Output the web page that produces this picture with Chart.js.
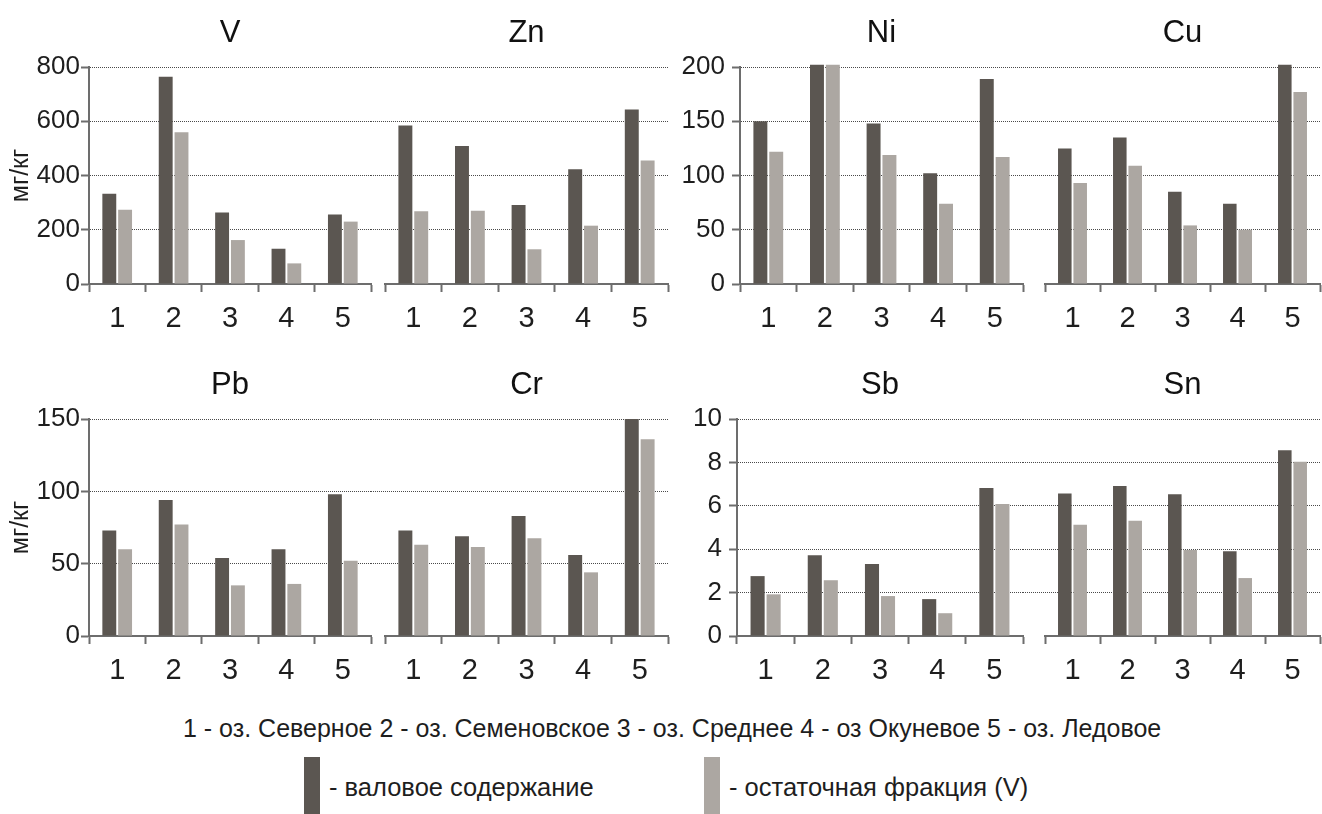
<!DOCTYPE html>
<html>
<head>
<meta charset="utf-8">
<script src="https://cdn.jsdelivr.net/npm/chart.js@4.4.1/dist/chart.umd.min.js"></script>
<style>
  body { margin: 0; background: #fff; }
  #page { position: relative; width: 1322px; height: 814px; overflow: hidden;
          font-family: 'Liberation Sans', Arial, sans-serif; color: #1e1e1e; }
  #page canvas { position: absolute; }
  .note { position: absolute; left: 183px; top: 712px; font-size: 25px; line-height: 32px; white-space: nowrap; }
  .swatch { position: absolute; top: 757px; width: 16px; height: 57px; }
  .lbl { position: absolute; top: 770px; font-size: 25.5px; line-height: 34px; white-space: nowrap; }
</style>
</head>
<body>
<div id="page">
  <canvas id="cV"></canvas>
  <canvas id="cZn"></canvas>
  <canvas id="cNi"></canvas>
  <canvas id="cCu"></canvas>
  <canvas id="cPb"></canvas>
  <canvas id="cCr"></canvas>
  <canvas id="cSb"></canvas>
  <canvas id="cSn"></canvas>
  <div class="note" id="note"></div>
  <div class="swatch" style="left:304px; background:#5b5651"></div>
  <div class="lbl" id="lbl0" style="left:329px"></div>
  <div class="swatch" style="left:704px; background:#aca7a2"></div>
  <div class="lbl" id="lbl1" style="left:729px"></div>
</div>
<script>
// озёра (категории) и подписи
const lakes = ['1', '2', '3', '4', '5'];
const seriesNames = ['- валовое содержание', '- остаточная фракция (V)'];
const lakeNote = '1 - оз. Северное 2 - оз. Семеновское 3 - оз. Среднее 4 - оз Окуневое 5 - оз. Ледовое';
const unitLabel = 'мг/кг';

// значения, мг/кг (валовое / остаточная фракция)
const vTotal = [333, 764, 264, 130, 256];
const vResid = [274, 559, 162, 76, 230];
const znTotal = [584, 509, 291, 423, 643];
const znResid = [268, 270, 128, 215, 455];
const niTotal = [150, 202, 148, 102, 189];
const niResid = [122, 202, 119, 74, 117];
const cuTotal = [125, 135, 85, 74, 202];
const cuResid = [93, 109, 54, 50, 177];
const pbTotal = [73, 94, 54, 60, 98];
const pbResid = [60, 77, 35, 36, 52];
const crTotal = [73, 69, 83, 56, 150];
const crResid = [63, 61.5, 67.5, 44, 136];
const sbTotal = [2.76, 3.72, 3.32, 1.70, 6.82];
const sbResid = [1.92, 2.57, 1.84, 1.05, 6.08];
const snTotal = [6.57, 6.91, 6.53, 3.90, 8.56];
const snResid = [5.13, 5.31, 3.96, 2.67, 8.03];

// шкалы по оси Y (max, шаг)
const scaleVZn = [800, 200];
const scaleNiCu = [200, 50];
const scalePbCr = [150, 50];
const scaleSbSn = [10, 2];

const DARK = '#5b5651';
const LIGHT = '#aca7a2';
const GRID = '#4a4a4a';
const AXIS = '#6d6d6d';
const NONE = 'rgba(0,0,0,0)';

Chart.defaults.font.family = "'Liberation Sans', Arial, sans-serif";
Chart.defaults.color = '#1e1e1e';

function drawElement(id, box, title, total, resid, yScale, opts) {
    const canvas = document.getElementById(id);
    canvas.width = box.w;
    canvas.height = box.h;
    canvas.style.left = box.x + 'px';
    canvas.style.top = box.y + 'px';

    return new Chart(canvas, {
        type: 'bar',
        data: {
            labels: lakes,
            datasets: [
                { label: seriesNames[0], data: total, backgroundColor: DARK },
                { label: seriesNames[1], data: resid, backgroundColor: LIGHT }
            ]
        },
        options: {
            responsive: false,
            animation: false,
            layout: { padding: { right: 2 } },
            datasets: { bar: { categoryPercentage: 0.56, barPercentage: 0.88, clip: false } },
            plugins: {
                legend: { display: false },
                tooltip: { enabled: false },
                title: {
                    display: true, text: title, fullSize: false, color: '#111',
                    font: { size: 31, weight: 'normal' },
                    padding: { top: 15, bottom: 14.8 }
                }
            },
            scales: {
                x: {
                    offset: true,
                    grid: { offset: true, drawOnChartArea: false, tickLength: 8, tickColor: AXIS, tickWidth: 2 },
                    border: { color: AXIS, width: 2 },
                    ticks: { font: { size: 29 }, padding: 10 },
                    afterFit: s => { s.height = 62; }
                },
                y: {
                    min: 0,
                    max: yScale[0],
                    ticks: { stepSize: yScale[1], display: opts.labels, font: { size: 26 }, padding: opts.pad || 1 },
                    grid: {
                        color: c => (c.tick && c.tick.value === 0 ? NONE : GRID),
                        lineWidth: 1,
                        tickLength: opts.labels ? 8 : opts.yw,
                        tickColor: c => (opts.labels ? AXIS : (c.tick && c.tick.value === 0 ? NONE : GRID)),
                        tickWidth: opts.labels ? 2 : 1,
                        tickBorderDash: opts.labels ? [] : [1, 1]
                    },
                    border: { display: opts.labels, color: AXIS, width: 2, dash: [1, 1] },
                    title: {
                        display: !!opts.unit, text: unitLabel,
                        font: { size: 25 }, padding: { top: 6, bottom: 0 }
                    },
                    afterFit: s => { s.width = opts.yw; }
                }
            }
        }
    });
}

// верхний ряд
drawElement('cV',  { x: 0,    y: 0, w: 373, h: 346 }, 'V',  vTotal,  vResid,  scaleVZn,  { labels: true,  yw: 89, unit: true });
drawElement('cZn', { x: 371,  y: 0, w: 299, h: 346 }, 'Zn', znTotal, znResid, scaleVZn,  { labels: false, yw: 14 });
drawElement('cNi', { x: 668,  y: 0, w: 357, h: 346 }, 'Ni', niTotal, niResid, scaleNiCu, { labels: true,  yw: 72, pad: 7 });
drawElement('cCu', { x: 1023, y: 0, w: 299, h: 346 }, 'Cu', cuTotal, cuResid, scaleNiCu, { labels: false, yw: 22 });
// нижний ряд
drawElement('cPb', { x: 0,    y: 352, w: 373, h: 346 }, 'Pb', pbTotal, pbResid, scalePbCr, { labels: true,  yw: 89, unit: true });
drawElement('cCr', { x: 371,  y: 352, w: 299, h: 346 }, 'Cr', crTotal, crResid, scalePbCr, { labels: false, yw: 14 });
drawElement('cSb', { x: 668,  y: 352, w: 357, h: 346 }, 'Sb', sbTotal, sbResid, scaleSbSn, { labels: true,  yw: 69, pad: 7 });
drawElement('cSn', { x: 1023, y: 352, w: 299, h: 346 }, 'Sn', snTotal, snResid, scaleSbSn, { labels: false, yw: 22 });

document.getElementById('note').textContent = lakeNote;
document.getElementById('lbl0').textContent = seriesNames[0];
document.getElementById('lbl1').textContent = seriesNames[1];
</script>
</body>
</html>
